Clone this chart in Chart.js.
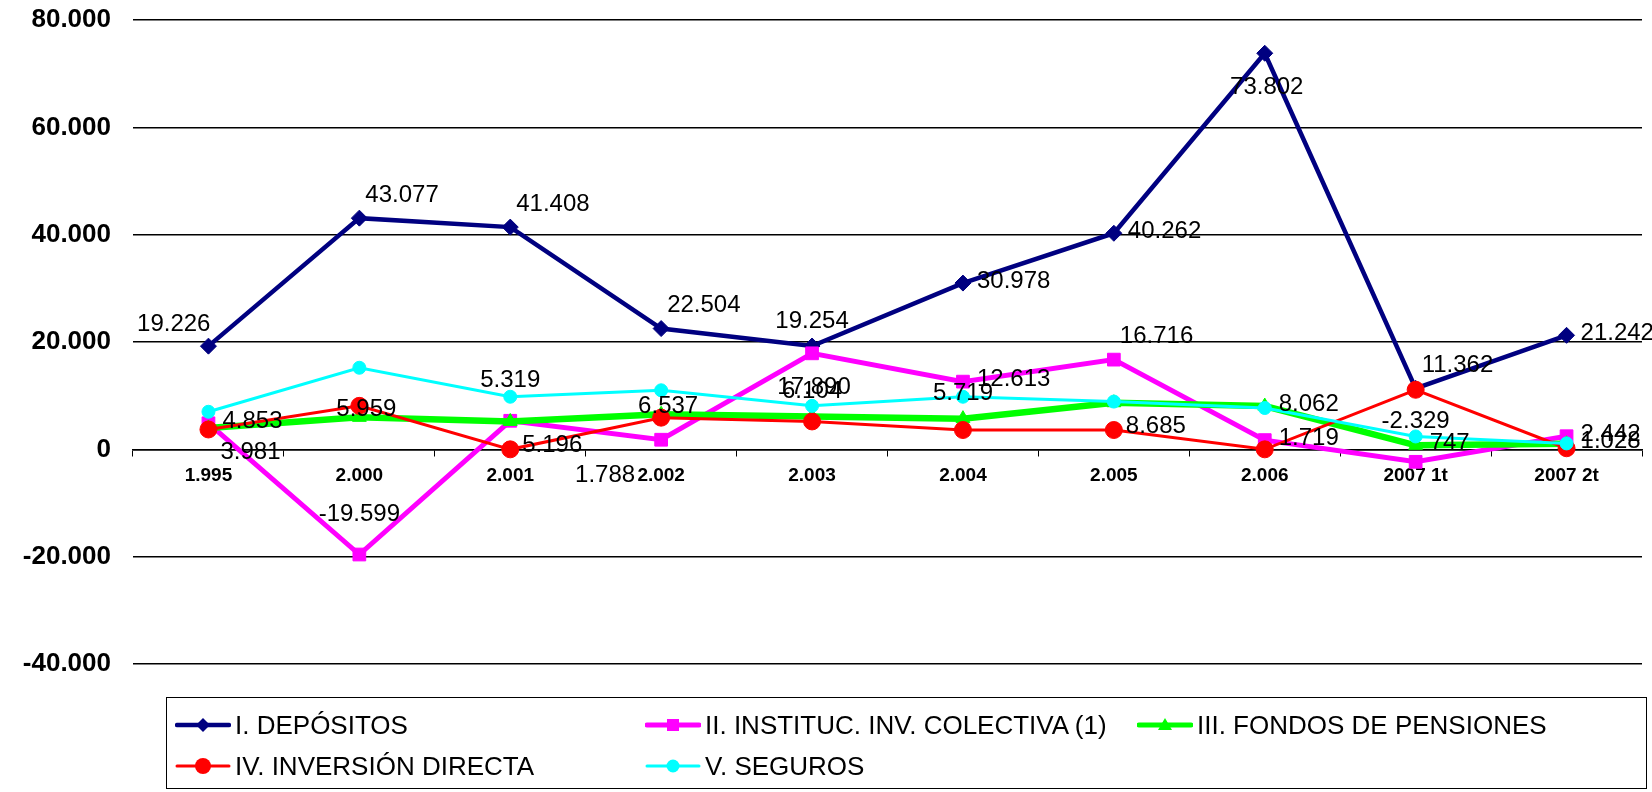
<!DOCTYPE html>
<html>
<head>
<meta charset="utf-8">
<title>Flujos de ahorro</title>
<script src="https://cdn.jsdelivr.net/npm/chart.js@4.4.1/dist/chart.umd.min.js"></script>
<style>
  body { margin: 0; background: #fff; }
  #wrap { position: relative; width: 1652px; height: 792px; }
  #legend {
    position: absolute; left: 166px; top: 697px; width: 1479px; height: 90px;
    border: 1px solid #000; box-sizing: content-box;
    font: 26px "Liberation Sans", Arial, sans-serif; color: #000;
  }
  .item { position: absolute; display: flex; align-items: center; height: 30px; white-space: nowrap; }
  .item svg { margin-right: 4px; flex: none; }
</style>
</head>
<body>
<div id="wrap">
  <canvas id="flowChart" width="1652" height="792"></canvas>
  <div id="legend"></div>
</div>
<script>
// --------------------- Data ---------------------
const categories = ["1.995", "2.000", "2.001", "2.002", "2.003", "2.004", "2.005", "2.006", "2007 1t", "2007 2t"];
const depositos = [19226, 43077, 41408, 22504, 19254, 30978, 40262, 73802, 11362, 21242];
const institucInv = [4853, -19599, 5319, 1788, 17890, 12613, 16716, 1719, -2329, 2442];
const fondosPensiones = [3981, 5959, 5196, 6537, 6104, 5719, 8685, 8062, 747, 1028];
const inversionDirecta = [3700, 8100, 0, 5900, 5200, 3600, 3600, 0, 11100, 200];
const seguros = [7000, 15200, 9800, 11000, 8100, 9800, 8900, 7700, 2400, 1100];
const yTicks = [-40000, -20000, 0, 20000, 40000, 60000, 80000];

// where each value label sits relative to its point
const depositosLabelPos = ["al", "ar", "ar", "ar", "a", "r", "r", "b", "ar", "r"];
const institucLabelPos = ["r", "A", "A", "bl", "b", "r", "ar", "r", "A", "r"];
const fondosLabelPos = ["br", "on", "br", "on", "a", "a", "br", "r", "r", "r"];

const labelSpots = {
  r:  { align: "left",   dx: 14,  dy: -2 },
  ar: { align: "left",   dx: 6,   dy: -23 },
  al: { align: "right",  dx: 2,   dy: -22 },
  a:  { align: "center", dx: 0,   dy: -25 },
  A:  { align: "center", dx: 0,   dy: -40 },
  on: { align: "center", dx: 7,   dy: -8 },
  b:  { align: "center", dx: 2,   dy: 34 },
  br: { align: "left",   dx: 12,  dy: 24 },
  bl: { align: "right",  dx: -26, dy: 36 }
};

const FONT = '"Liberation Sans", Arial, sans-serif';

function formatNum(v) {
  const s = Math.abs(Math.round(v)).toString().replace(/\B(?=(\d{3})+(?!\d))/g, ".");
  return (v < 0 ? "-" : "") + s;
}

// --------------------- Value labels ---------------------
const pointLabels = {
  id: "pointLabels",
  afterDatasetsDraw(chart) {
    const ctx = chart.ctx;
    ctx.save();
    ctx.font = "24px " + FONT;
    ctx.fillStyle = "#000";
    ctx.textBaseline = "middle";
    chart.data.datasets.forEach((ds, i) => {
      if (!ds.labelPos) return;
      chart.getDatasetMeta(i).data.forEach((pt, j) => {
        const spot = labelSpots[ds.labelPos[j]];
        ctx.textAlign = spot.align;
        ctx.fillText(formatNum(ds.data[j]), pt.x + spot.dx, pt.y + spot.dy);
      });
    });
    ctx.restore();
  }
};

// --------------------- Chart ---------------------
const series = [
  { label: "I. DEPÓSITOS", data: depositos, color: "#000080", width: 4.5, style: "rectRot", radius: 8, labelPos: depositosLabelPos },
  { label: "II. INSTITUC. INV. COLECTIVA (1)", data: institucInv, color: "#FF00FF", width: 5, style: "rect", radius: 9, labelPos: institucLabelPos },
  { label: "III. FONDOS DE PENSIONES", data: fondosPensiones, color: "#00FF00", width: 6.5, style: "triangle", radius: 8, labelPos: fondosLabelPos },
  { label: "IV. INVERSIÓN DIRECTA", data: inversionDirecta, color: "#FF0000", width: 3, style: "circle", radius: 8.5 },
  { label: "V. SEGUROS", data: seguros, color: "#00FFFF", width: 3, style: "circle", radius: 6.5 }
];

new Chart(document.getElementById("flowChart"), {
  type: "line",
  data: {
    labels: categories,
    datasets: series.map((s, i) => ({
      label: s.label,
      data: s.data,
      labelPos: s.labelPos,
      borderColor: s.color,
      backgroundColor: s.color,
      borderWidth: s.width,
      pointStyle: s.style,
      pointRadius: s.radius,
      pointBorderWidth: 1,
      pointBackgroundColor: s.color,
      tension: 0,
      order: series.length - i
    }))
  },
  options: {
    responsive: false,
    animation: false,
    layout: { padding: { top: 20, bottom: 128, right: 7, left: 0 } },
    plugins: { legend: { display: false }, tooltip: { enabled: false } },
    scales: {
      x: {
        position: { y: 0 },
        offset: true,
        grid: { offset: true, drawOnChartArea: false, drawTicks: true, tickLength: 6, color: "#000", lineWidth: 1 },
        border: { display: true, color: "#000", width: 1.5 },
        ticks: { color: "#000", padding: 9, autoSkip: false, maxRotation: 0, font: { family: FONT, size: 19, weight: "bold" } }
      },
      y: {
        min: -40000,
        max: 80000,
        afterBuildTicks: s => { s.ticks = yTicks.map(v => ({ value: v })); },
        afterFit: s => { s.width = 133; s.paddingTop = 0; s.paddingBottom = 0; },
        grid: { color: "#000", lineWidth: 1.5, drawTicks: false },
        border: { display: false },
        ticks: { color: "#000", padding: 22, font: { family: FONT, size: 26, weight: "bold" }, callback: v => formatNum(v) }
      }
    }
  },
  plugins: [pointLabels]
});

// --------------------- Legend ---------------------
function markerSvg(s) {
  const c = s.color;
  let m = "";
  if (s.style === "rectRot") m = `<polygon points="28,3 35,10 28,17 21,10" fill="${c}"/>`;
  else if (s.style === "rect") m = `<rect x="22" y="4" width="12" height="12" fill="${c}"/>`;
  else if (s.style === "triangle") m = `<polygon points="28,3 35,15 21,15" fill="${c}"/>`;
  else m = `<circle cx="28" cy="10" r="${Math.min(s.radius, 8)}" fill="${c}"/>`;
  return `<svg width="56" height="20"><line x1="2" y1="10" x2="54" y2="10" stroke="${c}" stroke-width="${Math.min(s.width, 5)}" stroke-linecap="round"/>${m}</svg>`;
}

const legendSpots = [[8, 12], [478, 12], [970, 12], [8, 53], [478, 53]];
const legend = document.getElementById("legend");
series.forEach((s, i) => {
  const item = document.createElement("div");
  item.className = "item";
  item.style.left = legendSpots[i][0] + "px";
  item.style.top = legendSpots[i][1] + "px";
  item.innerHTML = markerSvg(s) + "<span>" + s.label + "</span>";
  legend.appendChild(item);
});
</script>
</body>
</html>
